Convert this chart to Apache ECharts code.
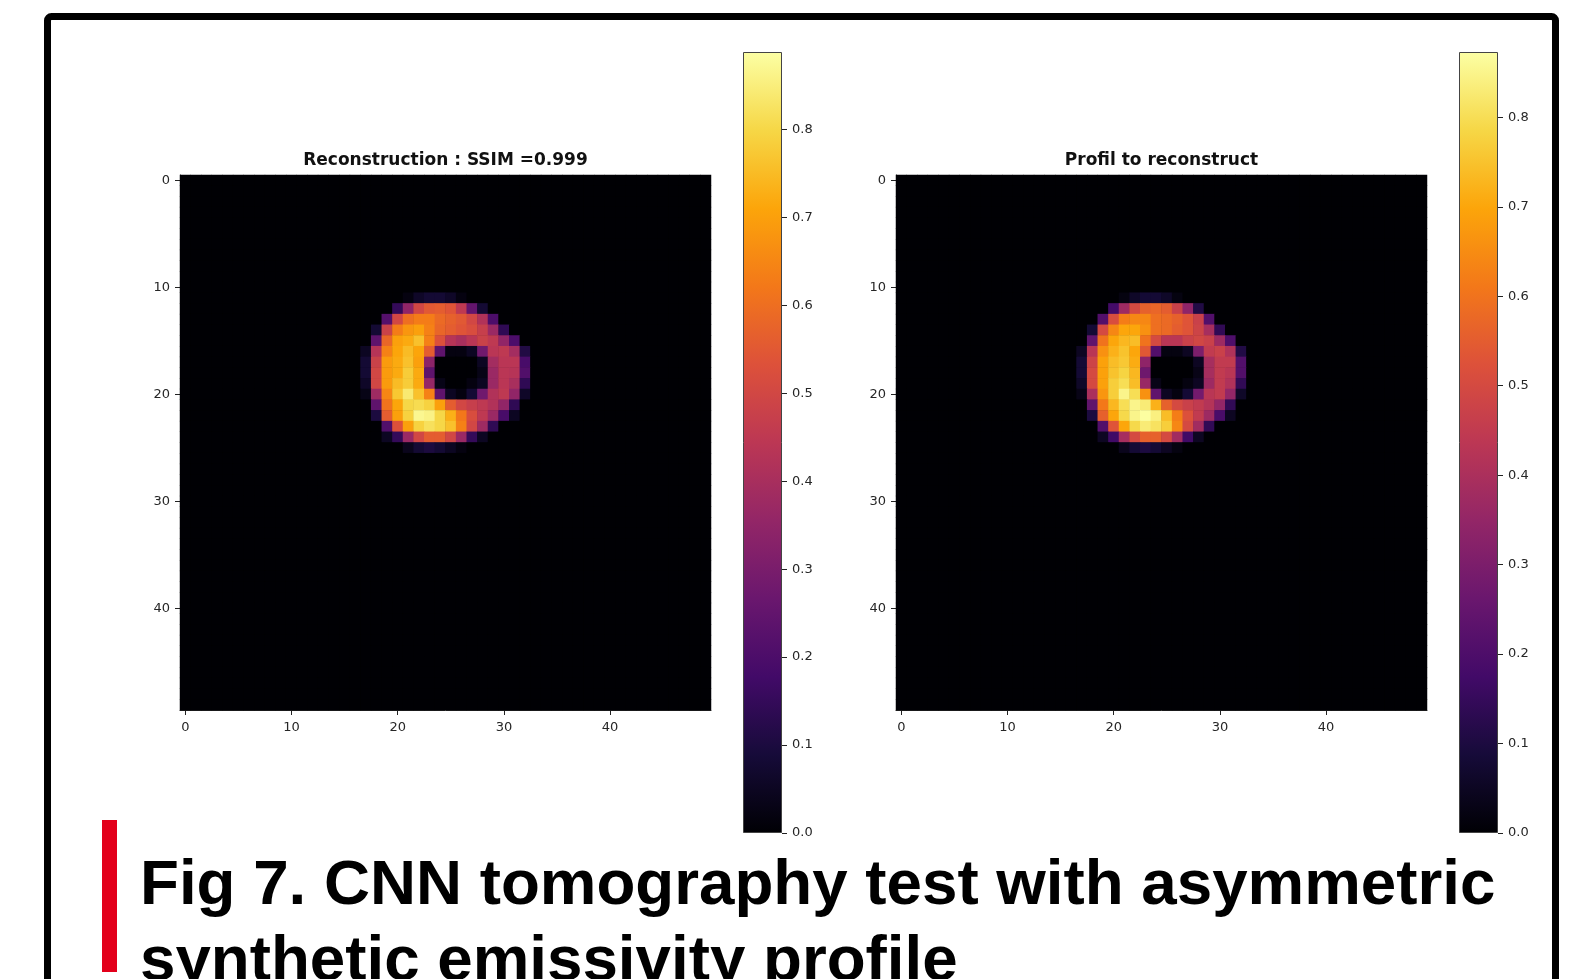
<!DOCTYPE html>
<html>
<head>
<meta charset="utf-8">
<script src="https://cdn.jsdelivr.net/npm/echarts/dist/echarts.min.js"></script>
<style>
html, body { margin: 0; padding: 0; background: #fff; }
#main { width: 1573px; height: 979px; }
</style>
</head>
<body>
<div id="main"></div>
<script>
// 50x50 images, only the ring area (rows 11..25, cols 17..32) is non-zero
const gridSize = 50;
const ringRow0 = 11;
const ringCol0 = 17;

const reconRows = [
  [0, 0, 0, 0, 0.02, 0.06, 0.08, 0.08, 0.06, 0.02, 0, 0, 0, 0, 0, 0],
  [0, 0, 0, 0.15, 0.35, 0.50, 0.55, 0.56, 0.54, 0.45, 0.25, 0.08, 0, 0, 0, 0],
  [0, 0, 0.22, 0.50, 0.60, 0.63, 0.63, 0.59, 0.57, 0.55, 0.50, 0.42, 0.20, 0, 0, 0],
  [0, 0.08, 0.48, 0.63, 0.68, 0.70, 0.64, 0.58, 0.56, 0.54, 0.52, 0.47, 0.37, 0.14, 0, 0],
  [0, 0.24, 0.58, 0.70, 0.72, 0.76, 0.64, 0.53, 0.43, 0.40, 0.44, 0.48, 0.45, 0.35, 0.20, 0],
  [0.05, 0.43, 0.64, 0.71, 0.75, 0.71, 0.56, 0.24, 0.02, 0.02, 0.05, 0.28, 0.44, 0.45, 0.39, 0.11],
  [0.08, 0.48, 0.69, 0.72, 0.76, 0.70, 0.34, 0, 0, 0, 0, 0.05, 0.39, 0.44, 0.44, 0.19],
  [0.08, 0.50, 0.69, 0.72, 0.78, 0.72, 0.24, 0, 0, 0, 0, 0.03, 0.37, 0.44, 0.43, 0.21],
  [0.06, 0.50, 0.69, 0.75, 0.78, 0.72, 0.36, 0.03, 0, 0, 0.02, 0.05, 0.37, 0.44, 0.40, 0.14],
  [0.03, 0.38, 0.65, 0.77, 0.84, 0.76, 0.64, 0.24, 0.05, 0.02, 0.08, 0.28, 0.42, 0.45, 0.35, 0.06],
  [0, 0.24, 0.61, 0.71, 0.80, 0.81, 0.79, 0.70, 0.56, 0.50, 0.47, 0.45, 0.42, 0.35, 0.14, 0],
  [0, 0.10, 0.56, 0.70, 0.79, 0.87, 0.86, 0.80, 0.73, 0.62, 0.52, 0.45, 0.37, 0.19, 0.05, 0],
  [0, 0, 0.21, 0.53, 0.70, 0.79, 0.82, 0.80, 0.76, 0.64, 0.50, 0.38, 0.14, 0, 0, 0],
  [0, 0, 0.05, 0.15, 0.37, 0.50, 0.56, 0.56, 0.50, 0.37, 0.15, 0.05, 0, 0, 0, 0],
  [0, 0, 0, 0, 0.04, 0.08, 0.10, 0.08, 0.05, 0.02, 0, 0, 0, 0, 0, 0]
];

const profileRows = [
  [0, 0, 0, 0, 0.02, 0.06, 0.08, 0.08, 0.06, 0.02, 0, 0, 0, 0, 0, 0],
  [0, 0, 0, 0.18, 0.37, 0.50, 0.56, 0.57, 0.55, 0.47, 0.34, 0.11, 0, 0, 0, 0],
  [0, 0, 0.21, 0.51, 0.62, 0.64, 0.64, 0.59, 0.58, 0.56, 0.53, 0.47, 0.21, 0, 0, 0],
  [0, 0.08, 0.50, 0.64, 0.70, 0.70, 0.66, 0.59, 0.58, 0.55, 0.53, 0.48, 0.39, 0.14, 0, 0],
  [0, 0.24, 0.60, 0.70, 0.73, 0.74, 0.60, 0.50, 0.43, 0.43, 0.47, 0.49, 0.47, 0.37, 0.20, 0],
  [0.05, 0.43, 0.66, 0.72, 0.75, 0.70, 0.54, 0.21, 0.02, 0.02, 0.05, 0.30, 0.45, 0.47, 0.41, 0.11],
  [0.08, 0.48, 0.69, 0.74, 0.76, 0.71, 0.34, 0, 0, 0, 0, 0.05, 0.39, 0.45, 0.45, 0.21],
  [0.08, 0.50, 0.69, 0.75, 0.78, 0.73, 0.27, 0, 0, 0, 0, 0.03, 0.39, 0.45, 0.43, 0.21],
  [0.06, 0.50, 0.69, 0.77, 0.80, 0.74, 0.36, 0.03, 0, 0, 0.02, 0.05, 0.37, 0.45, 0.41, 0.14],
  [0.03, 0.40, 0.67, 0.77, 0.85, 0.80, 0.66, 0.24, 0.05, 0.02, 0.08, 0.28, 0.43, 0.45, 0.35, 0.06],
  [0, 0.24, 0.61, 0.73, 0.80, 0.85, 0.83, 0.72, 0.56, 0.50, 0.47, 0.45, 0.42, 0.35, 0.14, 0],
  [0, 0.10, 0.56, 0.70, 0.79, 0.85, 0.87, 0.84, 0.74, 0.62, 0.52, 0.45, 0.37, 0.19, 0.05, 0],
  [0, 0, 0.21, 0.53, 0.70, 0.79, 0.83, 0.81, 0.77, 0.64, 0.50, 0.38, 0.14, 0, 0, 0],
  [0, 0, 0.05, 0.17, 0.39, 0.50, 0.56, 0.56, 0.50, 0.38, 0.17, 0.05, 0, 0, 0, 0],
  [0, 0, 0, 0, 0.04, 0.08, 0.10, 0.08, 0.05, 0.02, 0, 0, 0, 0, 0, 0]
];

const reconMax = 0.888;
const profileMax = 0.873;
const axisTicks = [0, 10, 20, 30, 40];
const cbarTicks = ['0.0', '0.1', '0.2', '0.3', '0.4', '0.5', '0.6', '0.7', '0.8'];
const inferno = ['#000004', '#160b39', '#420a68', '#6a176e', '#932667', '#bc3754',
                 '#dd513a', '#f37819', '#fca50a', '#f6d746', '#fcffa4'];

const titles = ['Reconstruction : SSIM =0.999', 'Profil to reconstruct'];
const caption = ['Fig 7. CNN tomography test with asymmetric', 'synthetic emissivity profile'];

const cats = [];
for (let k = 0; k < gridSize; k++) cats.push(String(k));

function toCells(rows) {
  const cells = [];
  for (let y = 0; y < gridSize; y++) {
    for (let x = 0; x < gridSize; x++) {
      const r = rows[y - ringRow0];
      let v = 0;
      if (r && x - ringCol0 >= 0 && x - ringCol0 < r.length) v = r[x - ringCol0];
      cells.push([x, y, v]);
    }
  }
  return cells;
}

const showTick = (idx) => axisTicks.indexOf(idx) >= 0;
const labelFont = { fontFamily: 'DejaVu Sans', fontSize: 13, color: '#262626' };

function imgXAxis(gi) {
  return {
    type: 'category', gridIndex: gi, data: cats, position: 'bottom',
    axisLine: { show: true, lineStyle: { color: '#222', width: 1 } },
    axisTick: { show: true, alignWithLabel: true, interval: showTick, length: 5, lineStyle: { color: '#222' } },
    axisLabel: Object.assign({ interval: showTick, margin: 11 }, labelFont),
    splitLine: { show: false }
  };
}
function imgYAxis(gi) {
  return {
    type: 'category', gridIndex: gi, data: cats, inverse: true,
    axisLine: { show: true, lineStyle: { color: '#222', width: 1 } },
    axisTick: { show: true, alignWithLabel: true, interval: showTick, length: 5, lineStyle: { color: '#222' } },
    axisLabel: Object.assign({ interval: showTick, margin: 10 }, labelFont),
    splitLine: { show: false }
  };
}
function cbarXAxis(gi) {
  return { type: 'category', gridIndex: gi, data: [''], show: false };
}
function cbarYAxis(gi, vmax) {
  return {
    type: 'value', gridIndex: gi, position: 'right', min: 0, max: vmax, interval: 0.1,
    axisLine: { show: false },
    axisTick: { show: true, length: 5, lineStyle: { color: '#222' } },
    axisLabel: Object.assign({
      margin: 10, showMaxLabel: false,
      formatter: (v) => cbarTicks.indexOf(v.toFixed(1)) >= 0 ? v.toFixed(1) : ''
    }, labelFont),
    splitLine: { show: false }
  };
}
function cbarGradient() {
  const stops = inferno.map((c, k) => ({ offset: k / (inferno.length - 1), color: c }));
  return new echarts.graphic.LinearGradient(0, 1, 0, 0, stops);
}

const chart = echarts.init(document.getElementById('main'));
const option = {
  animation: false,
  backgroundColor: '#fff',
  grid: [
    { left: 180, top: 175, width: 531, height: 535, show: true, backgroundColor: '#000004', borderWidth: 0 },
    { left: 743, top: 52, width: 39, height: 781 },
    { left: 896, top: 175, width: 531, height: 535, show: true, backgroundColor: '#000004', borderWidth: 0 },
    { left: 1459, top: 52, width: 39, height: 781 }
  ],
  xAxis: [imgXAxis(0), cbarXAxis(1), imgXAxis(2), cbarXAxis(3)],
  yAxis: [imgYAxis(0), cbarYAxis(1, reconMax), imgYAxis(2), cbarYAxis(3, profileMax)],
  visualMap: [
    { type: 'continuous', show: false, seriesIndex: 0, min: 0, max: reconMax, inRange: { color: inferno } },
    { type: 'continuous', show: false, seriesIndex: 2, min: 0, max: profileMax, inRange: { color: inferno } }
  ],
  series: [
    {
      type: 'heatmap', xAxisIndex: 0, yAxisIndex: 0, data: toCells(reconRows),
      progressive: 0, itemStyle: { borderWidth: 0 }, emphasis: { disabled: true }
    },
    {
      type: 'bar', xAxisIndex: 1, yAxisIndex: 1, data: [reconMax], barWidth: '100%',
      itemStyle: { color: cbarGradient(), borderColor: '#444', borderWidth: 1 }, silent: true
    },
    {
      type: 'heatmap', xAxisIndex: 2, yAxisIndex: 2, data: toCells(profileRows),
      progressive: 0, itemStyle: { borderWidth: 0 }, emphasis: { disabled: true }
    },
    {
      type: 'bar', xAxisIndex: 3, yAxisIndex: 3, data: [profileMax], barWidth: '100%',
      itemStyle: { color: cbarGradient(), borderColor: '#444', borderWidth: 1 }, silent: true
    }
  ],
  graphic: [
    { type: 'rect', shape: { x: 47.5, y: 16.5, width: 1508, height: 1000, r: 4 },
      style: { fill: 'none', stroke: '#000', lineWidth: 7 }, z: 100 },
    { type: 'rect', shape: { x: 102, y: 820, width: 15, height: 152 },
      style: { fill: '#e3001b' }, z: 100 },
    { type: 'text', x: 445.5, y: 161, z: 100,
      style: { text: titles[0], font: 'bold 17px "DejaVu Sans"', fill: '#111', align: 'center', verticalAlign: 'middle' } },
    { type: 'text', x: 1161.5, y: 161, z: 100,
      style: { text: titles[1], font: 'bold 17px "DejaVu Sans"', fill: '#111', align: 'center', verticalAlign: 'middle' } },
    { type: 'text', x: 140, y: 886, z: 100,
      style: { text: caption[0], font: 'bold 63.7px "Liberation Sans"', fill: '#000', align: 'left', verticalAlign: 'middle' } },
    { type: 'text', x: 140, y: 962, z: 100,
      style: { text: caption[1], font: 'bold 63.7px "Liberation Sans"', fill: '#000', align: 'left', verticalAlign: 'middle' } }
  ]
};
chart.setOption(option);
</script>
</body>
</html>
